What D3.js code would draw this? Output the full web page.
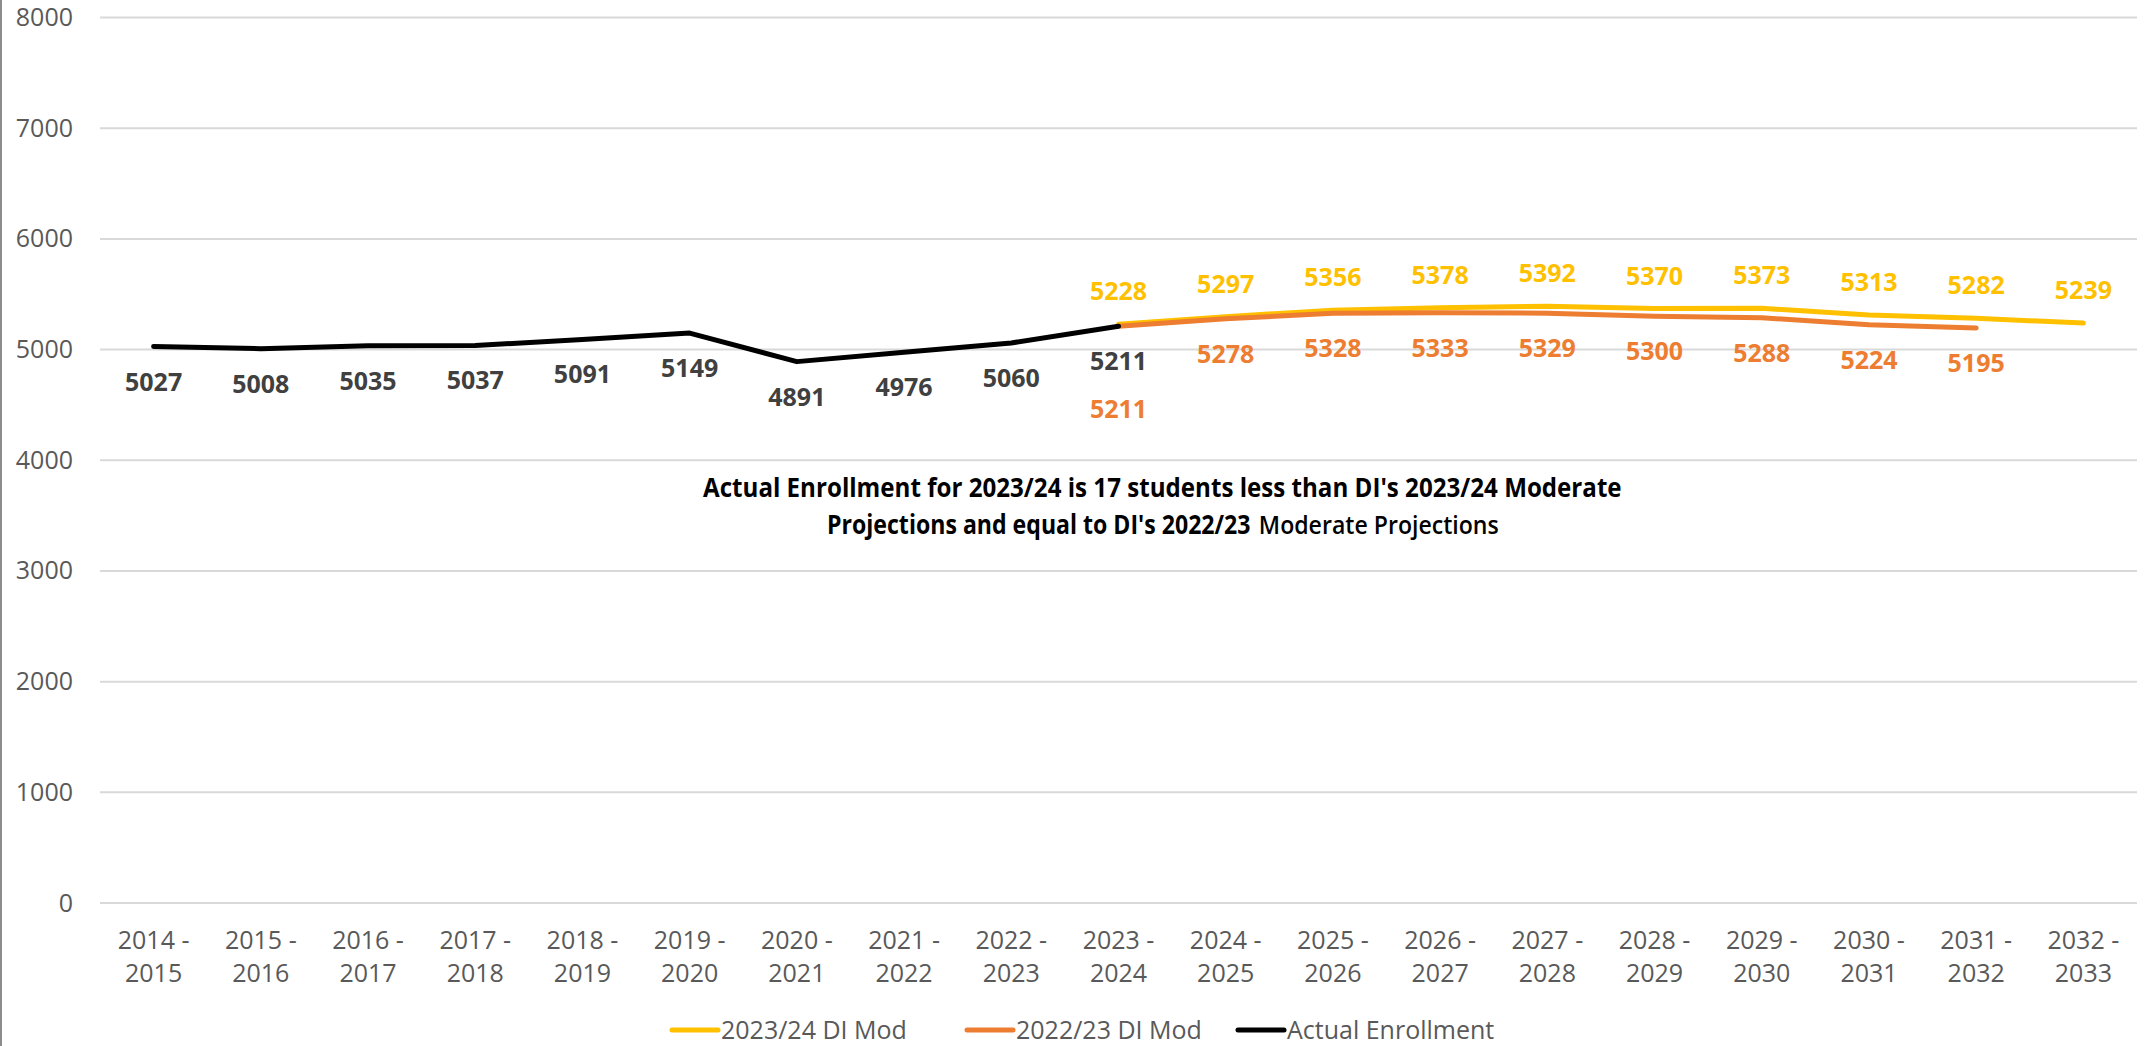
<!DOCTYPE html>
<html>
<head>
<meta charset="utf-8">
<script src="https://cdn.jsdelivr.net/npm/d3@7"></script>
<style>
  html, body { margin: 0; padding: 0; background: #fff; }
  svg { display: block; font-family: "Open Sans", sans-serif; }
</style>
</head>
<body>
<svg id="chart" width="2144" height="1046"></svg>
<script>
const categories = ["2014 - 2015","2015 - 2016","2016 - 2017","2017 - 2018","2018 - 2019","2019 - 2020","2020 - 2021","2021 - 2022","2022 - 2023","2023 - 2024","2024 - 2025","2025 - 2026","2026 - 2027","2027 - 2028","2028 - 2029","2029 - 2030","2030 - 2031","2031 - 2032","2032 - 2033"];
const actualEnrollment = [5027, 5008, 5035, 5037, 5091, 5149, 4891, 4976, 5060, 5211, null, null, null, null, null, null, null, null, null];
const diMod2324 = [null, null, null, null, null, null, null, null, null, 5228, 5297, 5356, 5378, 5392, 5370, 5373, 5313, 5282, 5239];
const diMod2223 = [null, null, null, null, null, null, null, null, null, 5211, 5278, 5328, 5333, 5329, 5300, 5288, 5224, 5195, null];
const yTicks = [0, 1000, 2000, 3000, 4000, 5000, 6000, 7000, 8000];
const seriesNames = ["2023/24 DI Mod", "2022/23 DI Mod", "Actual Enrollment"];
const annotationLine1 = "Actual Enrollment for 2023/24 is 17 students less than DI's 2023/24 Moderate";
const annotationLine2Bold = "Projections and equal to DI's 2022/23";
const annotationLine2Plain = "Moderate Projections";

const svg = d3.select("#chart");
const plotLeft = 100, plotRight = 2137, plotTop = 17.5, plotBottom = 903;

const x = d3.scaleBand().domain(categories).range([plotLeft, plotRight]).padding(0);
const y = d3.scaleLinear().domain([0, 8000]).range([plotBottom, plotTop]);
const cx = c => x(c) + x.bandwidth() / 2;

// left border
svg.append("line").attr("x1", 1).attr("x2", 1).attr("y1", 0).attr("y2", 1046)
  .attr("stroke", "#8c8c8c").attr("stroke-width", 2);

// gridlines
svg.append("g").selectAll("line").data(yTicks).join("line")
  .attr("x1", plotLeft).attr("x2", plotRight)
  .attr("y1", d => y(d)).attr("y2", d => y(d))
  .attr("stroke", "#d9d9d9").attr("stroke-width", 2);

// y axis
const yAxis = svg.append("g").attr("transform", `translate(${plotLeft},0)`)
  .call(d3.axisLeft(y).tickValues(yTicks).tickSize(0).tickPadding(27).tickFormat(d3.format("d")));
yAxis.select(".domain").remove();
yAxis.selectAll("text").attr("font-family", "Open Sans").attr("font-size", 25).attr("fill", "#595959");

// x axis
const xAxis = svg.append("g").attr("transform", `translate(0,${plotBottom})`)
  .call(d3.axisBottom(x).tickSize(0).tickFormat(""));
xAxis.select(".domain").remove();
xAxis.selectAll(".tick").each(function(d) {
  const parts = d.split(" - ");
  const t = d3.select(this).append("text")
    .attr("text-anchor", "middle").attr("font-family", "Open Sans")
    .attr("font-size", 25).attr("fill", "#595959");
  t.append("tspan").attr("x", 0).attr("y", 46).text(parts[0] + " -");
  t.append("tspan").attr("x", 0).attr("y", 79).text(parts[1]);
});

const series = [
  { name: seriesNames[0], values: diMod2324, color: "#FFC000", labelColor: "#FFC000", pos: "above" },
  { name: seriesNames[1], values: diMod2223, color: "#ED7D31", labelColor: "#ED7D31", pos: "below" },
  { name: seriesNames[2], values: actualEnrollment, color: "#000000", labelColor: "#404040", pos: "below" }
];

const line = d3.line()
  .defined(d => d.v != null)
  .x(d => cx(d.c))
  .y(d => y(d.v));

series.forEach(s => {
  const pts = categories.map((c, i) => ({ c, v: s.values[i] }));
  svg.append("path").datum(pts)
    .attr("fill", "none").attr("stroke", s.color).attr("stroke-width", 5)
    .attr("stroke-linecap", "round").attr("stroke-linejoin", "round")
    .attr("d", line);
});

// data labels
series.forEach(s => {
  const pts = categories.map((c, i) => ({ c, v: s.values[i], i })).filter(d => d.v != null);
  svg.append("g").selectAll("text").data(pts).join("text")
    .attr("x", d => cx(d.c))
    .attr("y", d => {
      if (s.pos === "above") return y(d.v) - 24;
      // avoid collision with the actual-enrollment label at the shared point
      const overlap = s.name === seriesNames[1] && actualEnrollment[d.i] != null;
      return y(d.v) + (overlap ? 92 : 44);
    })
    .attr("text-anchor", "middle")
    .attr("font-family", "Open Sans").attr("font-weight", 700).attr("font-size", 25)
    .attr("fill", s.labelColor)
    .text(d => d.v);
});

// annotation (condensed horizontally via a scale transform)
const ann = svg.append("g").attr("font-family", "Open Sans").attr("fill", "#000");

const g1 = ann.append("g");
const t1 = g1.append("text").attr("x", 0).attr("y", 0)
  .attr("font-size", 26).attr("font-weight", 700).text(annotationLine1);
const w1 = t1.node().getComputedTextLength();
const k1 = 919 / w1;
g1.attr("transform", `translate(703,497) scale(${k1},1)`);

const g2 = ann.append("g");
const tB = g2.append("text").attr("x", 0).attr("y", 0)
  .attr("font-size", 26).attr("font-weight", 700).text(annotationLine2Bold);
const wB = tB.node().getComputedTextLength();
const gap = 9;
const tP = g2.append("text").attr("x", wB + gap).attr("y", 0)
  .attr("font-size", 26).attr("font-weight", 600).text(annotationLine2Plain);
const wP = tP.node().getComputedTextLength();
const k2 = 672 / (wB + gap + wP);
g2.attr("transform", `translate(827,534) scale(${k2},1)`);

// legend
const legendX = [670, 965, 1236];
const legend = svg.append("g");
series.forEach((s, i) => {
  const g = legend.append("g").attr("transform", `translate(${legendX[i]},1030)`);
  g.append("line").attr("x1", 2).attr("x2", 48).attr("y1", 0).attr("y2", 0)
    .attr("stroke", s.color).attr("stroke-width", 5).attr("stroke-linecap", "round");
  g.append("text").attr("x", 51).attr("y", 9)
    .attr("font-family", "Open Sans").attr("font-size", 25).attr("fill", "#595959")
    .text(s.name);
});
</script>
</body>
</html>
